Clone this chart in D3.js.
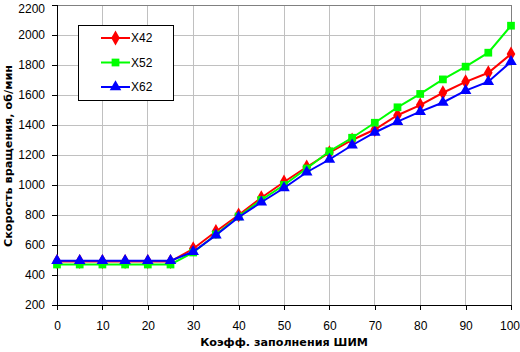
<!DOCTYPE html>
<html>
<head>
<meta charset="utf-8">
<script src="https://cdn.jsdelivr.net/npm/d3@7"></script>
<style>
  body { margin: 0; background: #fff; }
  svg text { font-family: "Liberation Sans", Arial, sans-serif; }
</style>
</head>
<body>
<script>
// Chart data
const pwm = [0, 5, 10, 15, 20, 25, 30, 35, 40, 45, 50, 55, 60, 65, 70, 75, 80, 85, 90, 95, 100];
const x42 = [490, 490, 490, 490, 490, 490, 575, 690, 800, 915, 1020, 1120, 1215, 1300, 1370, 1465, 1533, 1615, 1688, 1748, 1873];
const x52 = [470, 470, 470, 470, 470, 470, 550, 670, 790, 900, 1000, 1110, 1225, 1315, 1415, 1518, 1607, 1704, 1789, 1882, 2062];
const x62 = [495, 495, 495, 495, 495, 495, 555, 665, 785, 885, 980, 1085, 1170, 1265, 1350, 1422, 1489, 1550, 1629, 1689, 1822];
const xTicks = [0, 10, 20, 30, 40, 50, 60, 70, 80, 90, 100];
const yTicks = [200, 400, 600, 800, 1000, 1200, 1400, 1600, 1800, 2000, 2200];

const series = [
  { name: "X42", values: x42, color: "#ff0000", symbol: d3.symbolDiamond, size: 64 },
  { name: "X52", values: x52, color: "#00ff00", symbol: d3.symbolSquare, size: 60 },
  { name: "X62", values: x62, color: "#0000ff", symbol: d3.symbolTriangle, size: 58 }
];

const width = 520, height = 352;
const margin = { left: 57, right: 9, top: 5, bottom: 47 };

const svg = d3.select("body").append("svg")
    .attr("width", width)
    .attr("height", height);

const x = d3.scaleLinear().domain([0, 100]).range([margin.left, width - margin.right]);
const y = d3.scaleLinear().domain([200, 2200]).range([height - margin.bottom, margin.top]);

// Grid
svg.append("g")
  .selectAll("line")
  .data(xTicks.slice(1))
  .enter().append("line")
    .attr("x1", d => x(d)).attr("x2", d => x(d))
    .attr("y1", y(200)).attr("y2", y(2200))
    .attr("stroke", "#c0c0c0").attr("stroke-width", 1)
    .attr("shape-rendering", "crispEdges");

svg.append("g")
  .selectAll("line")
  .data(yTicks.slice(1))
  .enter().append("line")
    .attr("x1", x(0)).attr("x2", x(100))
    .attr("y1", d => y(d)).attr("y2", d => y(d))
    .attr("stroke", "#c0c0c0").attr("stroke-width", 1)
    .attr("shape-rendering", "crispEdges");

// Plot frame (top / right gray)
svg.append("rect")
  .attr("x", x(0)).attr("y", y(2200))
  .attr("width", x(100) - x(0)).attr("height", y(200) - y(2200))
  .attr("fill", "none").attr("stroke", "#808080")
  .attr("shape-rendering", "crispEdges");

// Axes
const xAxis = svg.append("g")
  .attr("transform", `translate(0,${y(200)})`)
  .call(d3.axisBottom(x).tickValues(xTicks).tickSize(5).tickPadding(11).tickFormat(d3.format("d")));

const yAxis = svg.append("g")
  .attr("transform", `translate(${x(0)},0)`)
  .call(d3.axisLeft(y).tickValues(yTicks).tickSize(5).tickPadding(7).tickFormat(d3.format("d")));

[xAxis, yAxis].forEach(a => {
  a.select(".domain").attr("stroke", "#000").attr("shape-rendering", "crispEdges");
  a.selectAll(".tick line").attr("stroke", "#000").attr("shape-rendering", "crispEdges");
  a.selectAll(".tick text").attr("fill", "#000").style("font-size", "12px");
});
// edge labels nudged so they stay inside the picture
yAxis.selectAll(".tick text").filter(d => d === 2200).attr("dy", "0.66em");
xAxis.selectAll(".tick text").filter(d => d === 100).attr("dx", "-1.5");

// Lines and markers
const line = d3.line().x((d, i) => x(pwm[i])).y(d => y(d));

series.forEach(s => {
  svg.append("path")
    .datum(s.values)
    .attr("d", line)
    .attr("fill", "none")
    .attr("stroke", s.color)
    .attr("stroke-width", 2);

  svg.append("g")
    .selectAll("path")
    .data(s.values)
    .enter().append("path")
      .attr("transform", (d, i) => `translate(${x(pwm[i])},${y(d)})`)
      .attr("d", d3.symbol().type(s.symbol).size(s.size))
      .attr("fill", s.color);
});

// Axis titles, sized to the width they take in the original
function fitTitle(sel, target) {
  const w = sel.node().getComputedTextLength();
  sel.style("font-size", (12 * target / w).toFixed(2) + "px");
}

const xTitle = svg.append("text")
  .attr("x", 284).attr("y", 346)
  .attr("text-anchor", "middle")
  .style("font-family", "'DejaVu Sans', sans-serif")
  .style("font-size", "12px").style("font-weight", "bold")
  .text("Коэфф. заполнения ШИМ");
fitTitle(xTitle, 168);

const yTitle = svg.append("text")
  .attr("transform", "translate(12,156) rotate(-90)")
  .attr("text-anchor", "middle")
  .style("font-family", "'DejaVu Sans', sans-serif")
  .style("font-size", "12px").style("font-weight", "bold")
  .text("Скорость вращения, об/мин");
fitTitle(yTitle, 182);

// Legend
const legend = svg.append("g");
legend.append("rect")
  .attr("x", 78.5).attr("y", 25.5)
  .attr("width", 95).attr("height", 75)
  .attr("fill", "#fff").attr("stroke", "#000");

series.forEach((s, i) => {
  const ly = 38 + i * 24.5;
  legend.append("line")
    .attr("x1", 101).attr("x2", 130)
    .attr("y1", ly).attr("y2", ly)
    .attr("stroke", s.color).attr("stroke-width", 2);
  legend.append("path")
    .attr("transform", `translate(115.5,${ly})`)
    .attr("d", d3.symbol().type(s.symbol).size(s.size))
    .attr("fill", s.color);
  legend.append("text")
    .attr("x", 131).attr("y", ly)
    .attr("dy", "0.35em")
    .style("font-size", "12px")
    .text(s.name);
});
</script>
</body>
</html>
